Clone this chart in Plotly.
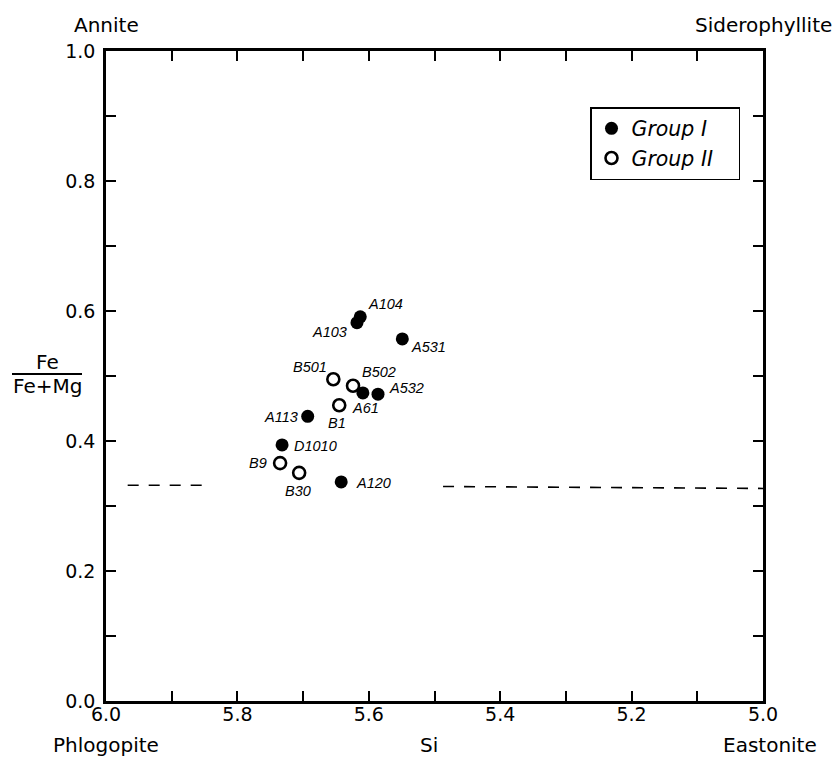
import plotly.graph_objects as go

# ---------------- data ----------------
g1_names = ["A104", "A103", "A531", "A61", "A532", "A113", "D1010", "A120"]
g1_si = [5.613, 5.618, 5.549, 5.609, 5.586, 5.693, 5.732, 5.642]
g1_fe = [0.591, 0.582, 0.557, 0.474, 0.472, 0.438, 0.394, 0.337]

g2_names = ["B501", "B502", "B1", "B9", "B30"]
g2_si = [5.654, 5.624, 5.645, 5.735, 5.706]
g2_fe = [0.495, 0.485, 0.455, 0.366, 0.351]

# dashed boundary line (two pieces)
bound_left_si = [5.967, 5.848]
bound_left_fe = [0.332, 0.332]
bound_right_si = [5.487, 5.0]
bound_right_fe = [0.330, 0.327]

x_tickvals = [6.0, 5.9, 5.8, 5.7, 5.6, 5.5, 5.4, 5.3, 5.2, 5.1, 5.0]
x_ticktext = ["6.0", "", "5.8", "", "5.6", "", "5.4", "", "5.2", "", "5.0"]
y_tickvals = [0.0, 0.1, 0.2, 0.3, 0.4, 0.5, 0.6, 0.7, 0.8, 0.9, 1.0]
y_ticktext = ["0.0", "", "0.2", "", "0.4", "", "0.6", "", "0.8", "", "1.0"]

# label offsets (pixels) relative to points
g1_dx = [25, -27, 26, 3, 28, -27, 33, 32]
g1_dy = [13, -9, -8, -15, 6, -1, -1, -1]
g2_dx = [-23, 26, -2, -22, -1]
g2_dy = [12, 14, -18, 0, -18]

# ---------------- layout geometry ----------------
W, H = 834, 758
L, R, T, B = 106, 71, 51, 57
PW, PH = W - L - R, H - T - B

def px_x(px):
    return (px - L) / PW

def px_y(py):
    return (H - B - py) / PH

FONT = "DejaVu Sans"
LFONT = "Liberation Sans"
PAD = "\u00a0\u00a0\u00a0"

fig = go.Figure()

# dashed boundary
for xs, ys in [(bound_left_si, bound_left_fe), (bound_right_si, bound_right_fe)]:
    fig.add_trace(go.Scatter(x=xs, y=ys, mode="lines",
                             line=dict(color="black", width=1.6, dash="11px,10px"),
                             showlegend=False, hoverinfo="skip"))

fig.add_trace(go.Scatter(x=g2_si, y=g2_fe, mode="markers", name="Group II" + PAD,
                         legendrank=2,
                         marker=dict(symbol="circle-open", size=12, color="black",
                                     line=dict(width=2.6, color="black"))))
fig.add_trace(go.Scatter(x=g1_si, y=g1_fe, mode="markers", name="Group I",
                         legendrank=1,
                         marker=dict(symbol="circle", size=13, color="black")))

annotations = []
for names, xs, ys, dxs, dys in [(g1_names, g1_si, g1_fe, g1_dx, g1_dy),
                                 (g2_names, g2_si, g2_fe, g2_dx, g2_dy)]:
    for n, x, y, dx, dy in zip(names, xs, ys, dxs, dys):
        annotations.append(dict(x=x, y=y, xref="x", yref="y", text="<i>" + n + "</i>",
                                showarrow=False, xanchor="center", yanchor="middle",
                                xshift=dx, yshift=dy,
                                font=dict(family=LFONT, size=14.5, color="black")))

def txt(text, px, py, size=20, xanchor="center"):
    annotations.append(dict(x=px_x(px), y=px_y(py), xref="paper", yref="paper",
                            text=text, showarrow=False, xanchor=xanchor, yanchor="middle",
                            font=dict(family=FONT, size=size, color="black")))

txt("Annite", 106, 25)
txt("Siderophyllite", 763, 25)
txt("Phlogopite", 106, 745)
txt("Si", 429, 745)
txt("Eastonite", 770, 745)
txt("Fe", 47, 362)
txt("Fe+Mg", 47, 386)

shapes = [dict(type="line", xref="paper", yref="paper",
               x0=px_x(12), x1=px_x(82), y0=px_y(374), y1=px_y(374),
               line=dict(color="black", width=1.8))]

axis_common = dict(showline=True, linecolor="black", linewidth=2.6, mirror="ticks",
                   ticks="inside", ticklen=10, tickwidth=1.6, tickcolor="black",
                   showgrid=False, zeroline=False,
                   tickfont=dict(family=FONT, size=19, color="black"))

fig.update_layout(
    width=W, height=H, autosize=False,
    margin=dict(l=L, r=R, t=T, b=B),
    paper_bgcolor="white", plot_bgcolor="white",
    xaxis=dict(range=[6.0, 5.0], tickmode="array", tickvals=x_tickvals,
               ticktext=x_ticktext, ticklabelstandoff=-6, **axis_common),
    yaxis=dict(range=[0.0, 1.0], tickmode="array", tickvals=y_tickvals,
               ticktext=y_ticktext, ticklabelstandoff=4, **axis_common),
    legend=dict(x=px_x(590), y=px_y(107), xanchor="left", yanchor="top",
                bordercolor="black", borderwidth=1.5, bgcolor="white",
                font=dict(family=FONT, size=20.5, color="black", style="italic"),
                itemsizing="trace", tracegroupgap=0),
    annotations=annotations,
    shapes=shapes,
    showlegend=True,
)

fig.write_html("out.html")
